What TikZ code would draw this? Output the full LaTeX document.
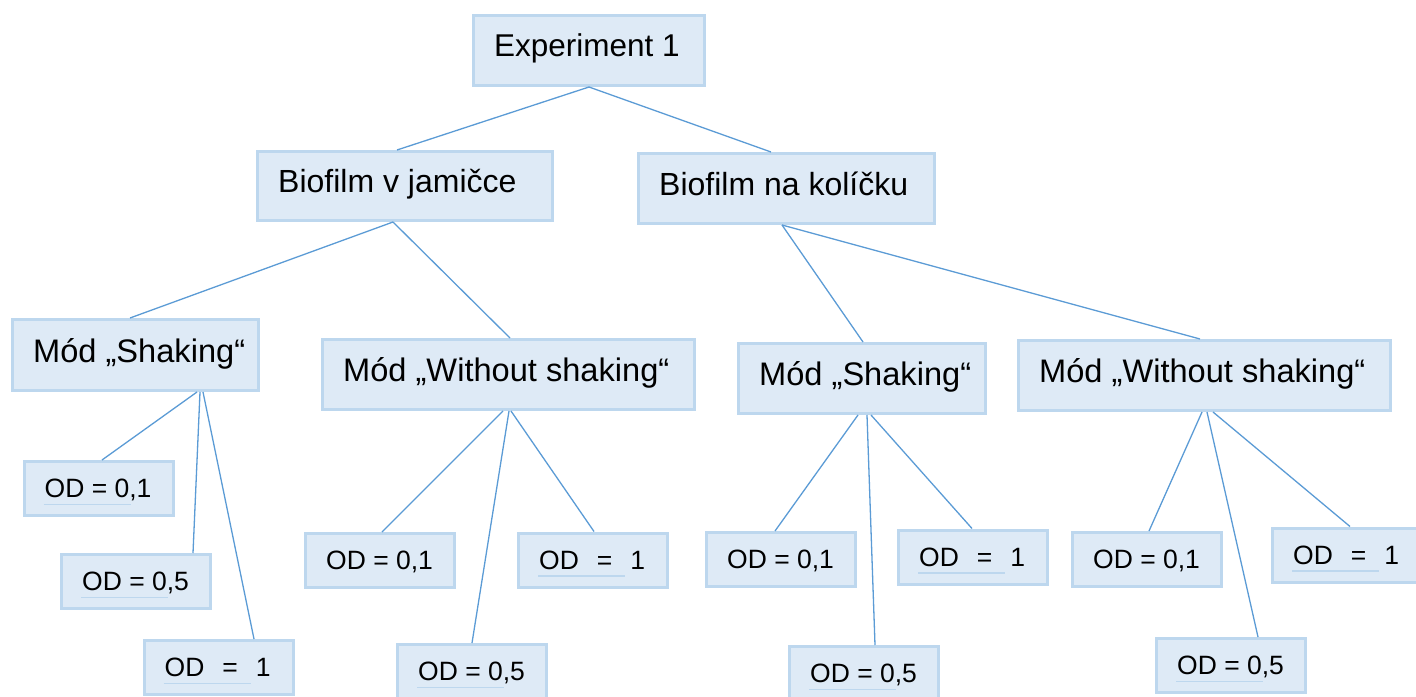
\documentclass[tikz,border=0pt]{standalone}
\usepackage{fontspec}
\setmainfont{Liberation Sans}
\definecolor{boxfill}{HTML}{DEEAF6}
\definecolor{boxline}{HTML}{BDD7EE}
\definecolor{connc}{HTML}{5B9BD5}
\definecolor{ulc}{HTML}{BDD7EE}
\begin{document}
\begin{tikzpicture}[x=1pt,y=-1pt,
  box/.style={rectangle, draw=boxline, fill=boxfill, line width=3pt, inner sep=0pt},
  bigbox/.style={box, minimum height=70pt},
  odbox/.style={box, minimum width=149pt, minimum height=54pt},
  lbl/.style={anchor=base west, inner sep=0pt, font=\fontsize{31.5}{38}\selectfont},
  lblb/.style={lbl, font=\fontsize{32}{38}\selectfont},
  lblm/.style={lbl, font=\fontsize{32.6}{38}\selectfont},
  odl/.style={anchor=base west, inner sep=0pt, font=\fontsize{26.5}{32}\selectfont},
  conn/.style={draw=connc, line width=1.3pt},
  ul/.style={draw=ulc, line width=1.5pt}]
\useasboundingbox (0,0) rectangle (1416,696);

% main boxes
\node[bigbox, minimum width=231pt] (exp) at (589,50.5) {};
\node[bigbox, minimum width=295pt, minimum height=69pt] (bvj) at (405,186) {};
\node[bigbox, minimum width=296pt] (bnk) at (786.5,188.5) {};
\node[bigbox, minimum width=246pt, minimum height=71pt] (msl) at (135.5,355) {};
\node[bigbox, minimum width=372pt] (mwsl) at (508.5,374.5) {};
\node[bigbox, minimum width=247pt] (msr) at (862,378.5) {};
\node[bigbox, minimum width=372pt] (mwsr) at (1204.5,375.5) {};

\node[lbl] (texp) at ([shift={(22,42.5)}]exp.north west) {Experiment 1};
\node[lblb] (tbvj) at ([shift={(22,42.5)}]bvj.north west) {Biofilm v jamičce};
\node[lblb] (tbnk) at ([shift={(22,43)}]bnk.north west) {Biofilm na kolíčku};
\node[lblm] (tmsl) at ([shift={(22,44)}]msl.north west) {Mód „Shaking“};
\node[lblm] (tmwsl) at ([shift={(22,43)}]mwsl.north west) {Mód „Without shaking“};
\node[lblm] (tmsr) at ([shift={(22,43)}]msr.north west) {Mód „Shaking“};
\node[lblm] (tmwsr) at ([shift={(22,43)}]mwsr.north west) {Mód „Without shaking“};

% OD boxes
\node[odbox] (od1a) at (98.5,488.5) {};
\node[odbox] (od1b) at (136,581.5) {};
\node[odbox] (od1c) at (218.5,667.5) {};
\node[odbox] (od2a) at (380,560.5) {};
\node[odbox] (od2b) at (472,671.5) {};
\node[odbox] (od2c) at (593,560) {};
\node[odbox] (od3a) at (781,559.5) {};
\node[odbox] (od3b) at (864,673.5) {};
\node[odbox] (od3c) at (973,557) {};
\node[odbox] (od4a) at (1147,559.5) {};
\node[odbox] (od4b) at (1231,665.5) {};
\node[odbox] (od4c) at (1347,555) {};

\foreach \n/\t in {od1a/{OD = 0,1}, od1b/{OD = 0,5}, od2a/{OD = 0,1}, od2b/{OD = 0,5},
                   od3a/{OD = 0,1}, od3b/{OD = 0,5}, od4a/{OD = 0,1}, od4b/{OD = 0,5}}
  \node[odl] (t\n) at ([shift={(22,37.5)}]\n.north west) {\t};
\foreach \n in {od1c, od2c, od3c, od4c}
  \node[odl] (t\n) at ([shift={(22,37.5)}]\n.north west) {OD\hspace{18pt}=\hspace{18pt}1};

% underlines
\foreach \n in {od1a, od1b, od1c, od2b, od2c, od3b, od3c, od4b, od4c}
  \draw[ul] ([shift={(21,44.5)}]\n.north west) -- ([shift={(108,44.5)}]\n.north west);

% connectors
\draw[conn] (exp.south) -- ([xshift=-8pt]bvj.north);
\draw[conn] (exp.south) -- ([xshift=-15.5pt]bnk.north);
\draw[conn] ([xshift=-12pt]bvj.south) -- ([xshift=-5.5pt]msl.north);
\draw[conn] ([xshift=-12pt]bvj.south) -- ([xshift=1.5pt]mwsl.north);
\draw[conn] ([xshift=-4.5pt]bnk.south) -- ([xshift=1pt]msr.north);
\draw[conn] ([xshift=-4.5pt]bnk.south) -- ([xshift=-4.5pt]mwsr.north);

\draw[conn] ([xshift=61.5pt]msl.south) -- ([xshift=3.5pt]od1a.north);
\draw[conn] ([xshift=64.5pt]msl.south) -- ([xshift=57pt]od1b.north);
\draw[conn] ([xshift=67.5pt]msl.south) -- ([xshift=35.5pt]od1c.north);

\draw[conn] ([xshift=-5.5pt]mwsl.south) -- ([xshift=2pt]od2a.north);
\draw[conn] ([xshift=0.5pt]mwsl.south) -- (od2b.north);
\draw[conn] ([xshift=2.5pt]mwsl.south) -- ([xshift=1pt]od2c.north);

\draw[conn] ([xshift=-4pt]msr.south) -- ([xshift=-6pt]od3a.north);
\draw[conn] ([xshift=5pt]msr.south) -- ([xshift=11pt]od3b.north);
\draw[conn] ([xshift=9pt]msr.south) -- ([xshift=-1pt]od3c.north);

\draw[conn] ([xshift=-2.5pt]mwsr.south) -- ([xshift=2pt]od4a.north);
\draw[conn] ([xshift=2.5pt]mwsr.south) -- ([xshift=27pt]od4b.north);
\draw[conn] ([xshift=8.5pt]mwsr.south) -- ([xshift=3pt]od4c.north);
\end{tikzpicture}
\end{document}
